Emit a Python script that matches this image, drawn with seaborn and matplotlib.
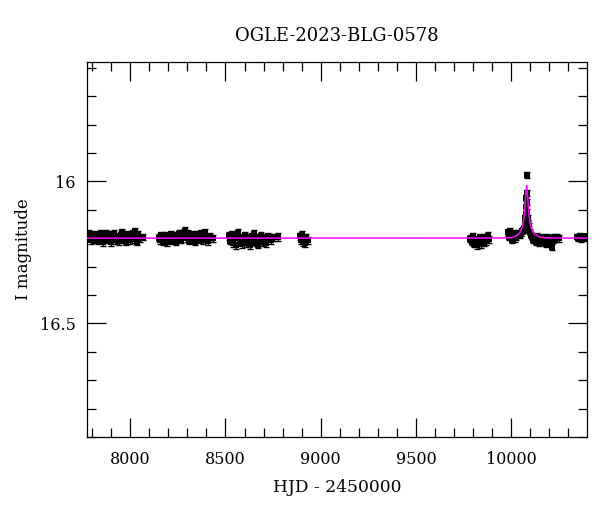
import numpy as np
import pandas as pd
import matplotlib
matplotlib.use("Agg")
import matplotlib.pyplot as plt
from matplotlib.ticker import MultipleLocator, FuncFormatter
import seaborn as sns

# ---------------- data ----------------
title = "OGLE-2023-BLG-0578"
xlabel = "HJD - 2450000"
ylabel = "I magnitude"

t1 = [7782, 7789, 7796, 7803, 7810, 7817, 7824, 7831, 7838, 7845,
      7852, 7859, 7866, 7873, 7880, 7887, 7894, 7901, 7908, 7915,
      7922, 7929, 7936, 7943, 7950, 7957, 7964, 7971, 7978, 7985,
      7992, 7999, 8006, 8013, 8020, 8027, 8034, 8041, 8050, 8066]
m1 = [16.184, 16.197, 16.207, 16.191, 16.204, 16.186, 16.199, 16.210, 16.193, 16.183,
      16.201, 16.214, 16.194, 16.185, 16.206, 16.196, 16.188, 16.215, 16.199, 16.184,
      16.207, 16.193, 16.200, 16.211, 16.188, 16.180, 16.205, 16.195, 16.212, 16.187,
      16.198, 16.208, 16.191, 16.183, 16.204, 16.176, 16.213, 16.188, 16.200, 16.196]

t2 = [8150, 8157, 8164, 8171, 8178, 8185, 8192, 8199, 8206, 8213,
      8220, 8227, 8234, 8241, 8248, 8255, 8262, 8269, 8276, 8283,
      8290, 8297, 8304, 8311, 8318, 8325, 8332, 8339, 8346, 8353,
      8360, 8367, 8374, 8381, 8388, 8395, 8402, 8409, 8420, 8435]
m2 = [16.198, 16.207, 16.189, 16.211, 16.200, 16.192, 16.214, 16.197, 16.205, 16.187,
      16.208, 16.198, 16.190, 16.212, 16.200, 16.185, 16.195, 16.206, 16.188, 16.181,
      16.174, 16.200, 16.184, 16.209, 16.193, 16.202, 16.186, 16.213, 16.196, 16.188,
      16.205, 16.197, 16.183, 16.208, 16.190, 16.180, 16.200, 16.211, 16.195, 16.201]

t3 = [8518, 8525, 8532, 8539, 8546, 8553, 8560, 8567, 8574, 8581,
      8588, 8595, 8602, 8609, 8616, 8623, 8630, 8637, 8644, 8651,
      8658, 8665, 8672, 8679, 8686, 8693, 8700, 8707, 8714, 8721,
      8728, 8740, 8755, 8778]
m3 = [16.193, 16.209, 16.187, 16.217, 16.200, 16.225, 16.191, 16.182, 16.212, 16.198,
      16.222, 16.204, 16.190, 16.218, 16.200, 16.210, 16.224, 16.194, 16.206, 16.186,
      16.216, 16.199, 16.223, 16.203, 16.192, 16.213, 16.198, 16.206, 16.217, 16.194,
      16.200, 16.208, 16.197, 16.196]

t4 = [8889, 8895, 8901, 8907, 8913, 8919, 8925, 8931]
m4 = [16.194, 16.207, 16.188, 16.213, 16.200, 16.217, 16.198, 16.208]

t5 = [9786, 9793, 9800, 9807, 9814, 9821, 9828, 9835, 9842, 9849,
      9856, 9863, 9870, 9877, 9886]
m5 = [16.202, 16.212, 16.194, 16.219, 16.206, 16.224, 16.212, 16.197, 16.222, 16.207,
      16.216, 16.199, 16.210, 16.192, 16.204]

t6 = [9984, 9990, 9996, 10002, 10008,
      10014, 10020, 10026, 10032, 10038,
      10044, 10050, 10056, 10062, 10066,
      10070, 10073, 10075, 10077, 10079,
      10080, 10081, 10082, 10083, 10085,
      10087, 10089, 10092, 10095, 10099,
      10104, 10110, 10116, 10122, 10128,
      10134, 10140, 10146, 10152, 10158,
      10164, 10170, 10176, 10182, 10188,
      10194, 10200, 10206, 10212, 10218,
      10224, 10232, 10242, 10252]
m6 = [16.180, 16.196, 16.176, 16.207, 16.188,
      16.184, 16.201, 16.197, 16.190, 16.183,
      16.189, 16.181, 16.176, 16.172, 16.166,
      16.157, 16.146, 16.128, 16.115, 16.092,
      16.058, 15.977, 16.040, 16.073, 16.108,
      16.128, 16.146, 16.158, 16.170, 16.179,
      16.189, 16.197, 16.207, 16.200, 16.212,
      16.194, 16.205, 16.217, 16.199, 16.210,
      16.195, 16.214, 16.203, 16.220, 16.198,
      16.208, 16.212, 16.200, 16.232, 16.206,
      16.195, 16.204, 16.197, 16.201]

t7 = [10346, 10353, 10360, 10367, 10374, 10381, 10388, 10395]
m7 = [16.195, 16.201, 16.192, 16.204, 16.197, 16.202, 16.194, 16.199]

season_times = [t1, t2, t3, t4, t5, t6, t7]
season_mags = [m1, m2, m3, m4, m5, m6, m7]
season_errs = [0.012, 0.012, 0.013, 0.013, 0.013, 0.011, 0.009]

model_t = [7773, 9960, 10010, 10035, 10046, 10054, 10060, 10065, 10070, 10075, 10078,
           10081,
           10084, 10087, 10092, 10097, 10102, 10108, 10116, 10127, 10152, 10202, 10398]
model_m = [16.200, 16.1995, 16.197, 16.188, 16.180, 16.168, 16.155, 16.138, 16.110, 16.060, 16.035,
           16.015,
           16.035, 16.060, 16.110, 16.138, 16.155, 16.168, 16.180, 16.188, 16.197, 16.1995, 16.200]

# ---------------- build tables ----------------
rows = []
for s, (ts, ms, e) in enumerate(zip(season_times, season_mags, season_errs)):
    for t, m in zip(ts, ms):
        rows.append((t, m, e, s))
df = pd.DataFrame(rows, columns=["t", "mag", "err", "season"])
model_df = pd.DataFrame({"t": model_t, "mag": model_m})

# ---------------- plot ----------------
sns.set_theme(style="ticks")
plt.rcParams["font.family"] = ["DejaVu Serif"]
plt.rcParams["mathtext.fontset"] = "dejavuserif"

fig = plt.figure(figsize=(6.0, 5.12), dpi=100)
ax = fig.add_axes([87 / 600, 1 - 437 / 512, 500 / 600, 375 / 512])

ax.errorbar(df["t"], df["mag"], yerr=df["err"], fmt="none", ecolor="black",
            elinewidth=1.0, capsize=2.5, capthick=1.0, zorder=2)
sns.scatterplot(data=df, x="t", y="mag", marker="s", color="black", s=20,
                linewidth=0, ax=ax, zorder=3, legend=False)
sns.lineplot(data=model_df, x="t", y="mag", color="#ff00ff", linewidth=1.1,
             sort=False, estimator=None, ax=ax, zorder=4, legend=False)

ax.set_xlim(7773, 10398)
ax.set_ylim(16.90, 15.58)

ax.xaxis.set_major_locator(MultipleLocator(500))
ax.xaxis.set_minor_locator(MultipleLocator(100))
ax.yaxis.set_major_locator(MultipleLocator(0.5))
ax.yaxis.set_minor_locator(MultipleLocator(0.1))
fmt = FuncFormatter(lambda v, p: "%g" % v)
ax.xaxis.set_major_formatter(fmt)
ax.yaxis.set_major_formatter(fmt)

ax.tick_params(which="both", direction="in", top=True, right=True,
               color="black", width=0.9, labelsize=11.5, labelcolor="black")
ax.tick_params(axis="x", which="major", length=13.5, pad=10)
ax.tick_params(axis="y", which="major", length=13.5, pad=8)
ax.tick_params(which="minor", length=6.5)
for sp in ax.spines.values():
    sp.set_color("black")
    sp.set_linewidth(0.9)

ax.set_xlabel(xlabel, fontsize=12.3, color="black", labelpad=8)
ax.set_ylabel(ylabel, fontsize=12, color="black", labelpad=6)
ax.set_title(title, fontsize=13, color="black", pad=15)

fig.savefig("out.png", dpi=100)
